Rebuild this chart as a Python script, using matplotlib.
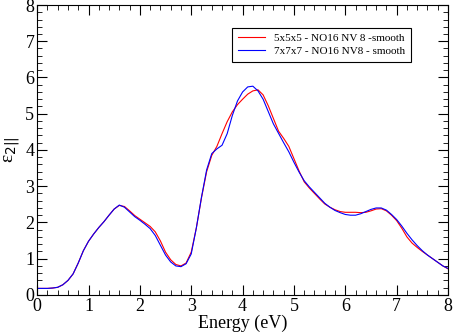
import matplotlib
matplotlib.use("Agg")
import matplotlib.pyplot as plt
from matplotlib.ticker import MultipleLocator

# energy grid (eV)
energy = [i / 10 for i in range(81)]

eps_555 = [0.18, 0.18, 0.18, 0.19, 0.21, 0.28, 0.40, 0.58, 0.88, 1.22,
           1.48, 1.68, 1.86, 2.02, 2.20, 2.37, 2.47, 2.44, 2.32, 2.19,
           2.09, 1.99, 1.89, 1.74, 1.49, 1.18, 0.97, 0.84, 0.80, 0.88,
           1.18, 1.85, 2.68, 3.40, 3.85, 4.10, 4.45, 4.78, 5.05, 5.25,
           5.40, 5.54, 5.63, 5.66, 5.52, 5.22, 4.87, 4.52, 4.32, 4.10,
           3.76, 3.42, 3.12, 2.95, 2.80, 2.65, 2.51, 2.42, 2.35, 2.30,
           2.28, 2.28, 2.28, 2.27, 2.28, 2.32, 2.37, 2.38, 2.32, 2.20,
           2.05, 1.84, 1.60, 1.43, 1.31, 1.20, 1.10, 1.00, 0.90, 0.80,
           0.72]

eps_777 = [0.18, 0.18, 0.18, 0.19, 0.21, 0.28, 0.40, 0.58, 0.88, 1.22,
           1.48, 1.68, 1.86, 2.02, 2.20, 2.37, 2.48, 2.42, 2.29, 2.16,
           2.06, 1.95, 1.83, 1.64, 1.37, 1.10, 0.91, 0.80, 0.78, 0.86,
           1.13, 1.85, 2.70, 3.45, 3.90, 4.03, 4.13, 4.45, 4.95, 5.35,
           5.60, 5.74, 5.76, 5.63, 5.40, 5.06, 4.72, 4.46, 4.20, 3.95,
           3.66, 3.39, 3.15, 2.98, 2.83, 2.68, 2.53, 2.42, 2.33, 2.27,
           2.22, 2.20, 2.20, 2.24, 2.30, 2.36, 2.40, 2.40, 2.34, 2.22,
           2.08, 1.90, 1.70, 1.52, 1.36, 1.22, 1.10, 1.00, 0.90, 0.80,
           0.73]

labels = ["5x5x5 - NO16 NV 8 -smooth", "7x7x7 - NO16 NV8 - smooth"]

plt.rcParams['font.family'] = ['Liberation Serif', 'DejaVu Serif']

fig = plt.figure(figsize=(4.53, 3.34), dpi=100)
ax = fig.add_axes([0.082, 0.117, 0.907, 0.868])

ax.plot(energy, eps_555, color='red', lw=0.8, label=labels[0])
ax.plot(energy, eps_777, color='blue', lw=0.8, label=labels[1])

ax.set_xlim(0, 8)
ax.set_ylim(0, 8)
ax.xaxis.set_major_locator(MultipleLocator(1))
ax.xaxis.set_minor_locator(MultipleLocator(0.2))
ax.yaxis.set_major_locator(MultipleLocator(1))
ax.yaxis.set_minor_locator(MultipleLocator(0.2))
ax.tick_params(which='both', direction='in', top=True, right=True, labelsize=13, pad=2)
ax.tick_params(which='major', length=7)
ax.tick_params(which='minor', length=3.5)

ax.set_xlabel('Energy (eV)', fontsize=13, labelpad=0)
ax.set_ylabel('ε$_{2||}$', fontsize=14, labelpad=2)

leg = ax.legend(loc='upper right', bbox_to_anchor=(0.91, 0.921), fontsize=8,
                frameon=True, fancybox=False, edgecolor='black', framealpha=1,
                handlelength=2.5, borderpad=0.5, labelspacing=0.3, borderaxespad=0)
leg.get_frame().set_linewidth(0.8)

fig.savefig('out.png', dpi=100)
